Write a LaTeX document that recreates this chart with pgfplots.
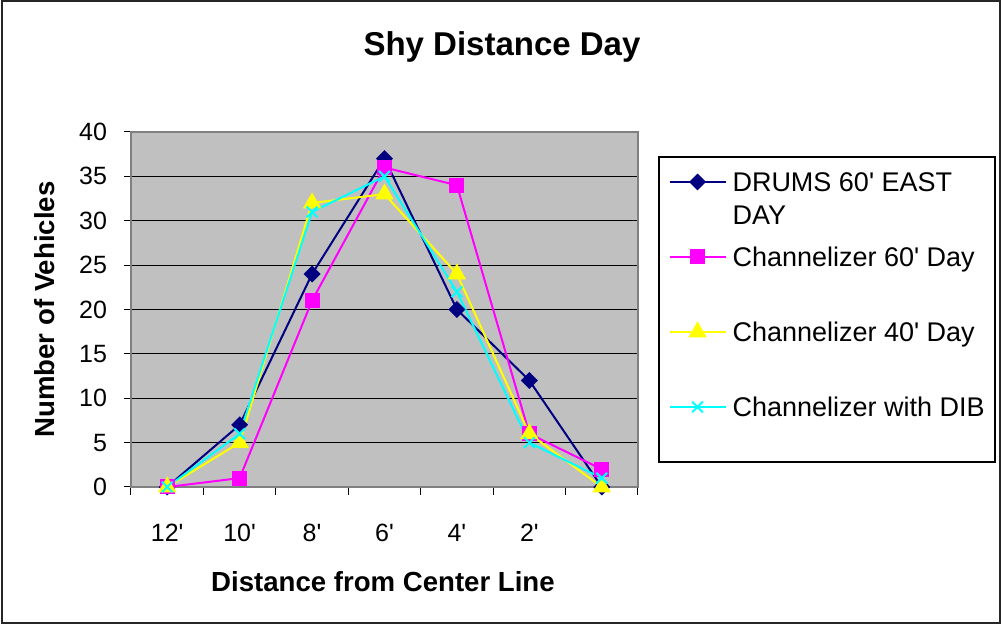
\documentclass[border=0pt]{standalone}
\usepackage{pgfplots}
\pgfplotsset{compat=1.18}
\usepackage{fontspec}
\setmainfont{Liberation Sans}
\definecolor{drums}{HTML}{000080}
\definecolor{chsixty}{HTML}{FF00FF}
\definecolor{chforty}{HTML}{FFFF00}
\definecolor{chdib}{HTML}{00FFFF}
\definecolor{plotbg}{HTML}{C0C0C0}
\definecolor{frame}{HTML}{808080}
\newcommand{\ft}{\textquotesingle}

\begin{document}
\begin{tikzpicture}
\useasboundingbox (0pt,0pt) rectangle (501pt,313pt);
\draw[line width=1pt,black!85] (1pt,1.5pt) rectangle (500pt,312.5pt);
% legend frame
\draw[line width=0.6pt,black] (329.5pt,82pt) rectangle (497.5pt,234.5pt);
\begin{axis}[
  at={(65.5pt,69.5pt)},anchor=south west,
  scale only axis,width=253.5pt,height=177.5pt,
  xmin=0.5,xmax=7.5,ymin=0,ymax=40,
  clip=false,
  axis background/.style={fill=plotbg},
  axis line style={draw=frame,line width=1pt},
  tick align=outside,
  xtick pos=bottom,ytick pos=left,
  tick style={black,line width=0.5pt},
  major tick length=3.5pt,minor tick length=4pt,
  xtick={1,2,3,4,5,6},
  xticklabels={12\ft,10\ft,8\ft,6\ft,4\ft,2\ft},
  minor xtick={0.5,1.5,2.5,3.5,4.5,5.5,6.5,7.5},
  every major x tick/.append style={draw=none},
  ytick={0,5,10,15,20,25,30,35,40},
  ymajorgrids,
  major grid style={black,line width=0.5pt},
  /pgf/number format/assume math mode=true,
  ticklabel style={font=\fontsize{12.5}{15}\selectfont},
  xticklabel style={anchor=base,yshift=-24pt},
  yticklabel style={anchor=east,xshift=-5pt},
  xlabel={Distance from Center Line},
  ylabel={Number of Vehicles},
  xlabel style={at={(axis description cs:0.497,-0.2676)},anchor=center,font=\bfseries\fontsize{13.8}{16}\selectfont},
  ylabel style={at={(axis description cs:-0.1696,0.5)},anchor=center,font=\bfseries\fontsize{13.8}{16}\selectfont},
  title={Shy Distance Day},
  title style={at={(axis description cs:0.7318,1.2451)},anchor=center,yshift=-7pt,font=\bfseries\fontsize{16.5}{20}\selectfont},
  legend cell align=left,
  legend image code/.code={\draw[mark repeat=2,mark phase=2] plot coordinates {(0pt,0pt) (14pt,0pt) (28pt,0pt)};},
  legend style={at={(axis description cs:1.0602,0.8865)},anchor=north west,
    draw=none,fill=none,inner sep=0pt,outer sep=0pt,
    row sep=27.8pt,column sep=3pt,
    font=\fontsize{13.5}{16}\selectfont,
    nodes={inner sep=0pt,text height=9.7pt,text depth=0pt}},
]
\addplot[drums,line width=1pt,mark=square*,mark size=2.5pt,mark options={rotate=45,solid,fill=drums}]
  coordinates {(1,0) (2,7) (3,24) (4,37) (5,20) (6,12) (7,0)};
\addlegendentry{\rlap{\raisebox{-16.5pt}[0pt][0pt]{DAY}}DRUMS 60\ft{} EAST}
\addplot[chsixty,line width=1pt,mark=square*,mark size=3.25pt,mark options={solid,fill=chsixty}]
  coordinates {(1,0) (2,1) (3,21) (4,36) (5,34) (6,6) (7,2)};
\addlegendentry{Channelizer 60\ft{} Day}
\addplot[chforty,line width=1pt,mark=triangle*,mark size=4.3pt,mark options={solid,fill=chforty}]
  coordinates {(1,0) (2,5) (3,32) (4,33) (5,24) (6,6) (7,0)};
\addlegendentry{Channelizer 40\ft{} Day}
\addplot[chdib,line width=1pt,mark=x,mark size=3.8pt,mark options={solid,line width=1pt}]
  coordinates {(1,0) (2,6) (3,31) (4,35) (5,22) (6,5) (7,1)};
\addlegendentry{Channelizer with DIB}
\end{axis}
\end{tikzpicture}
\end{document}
